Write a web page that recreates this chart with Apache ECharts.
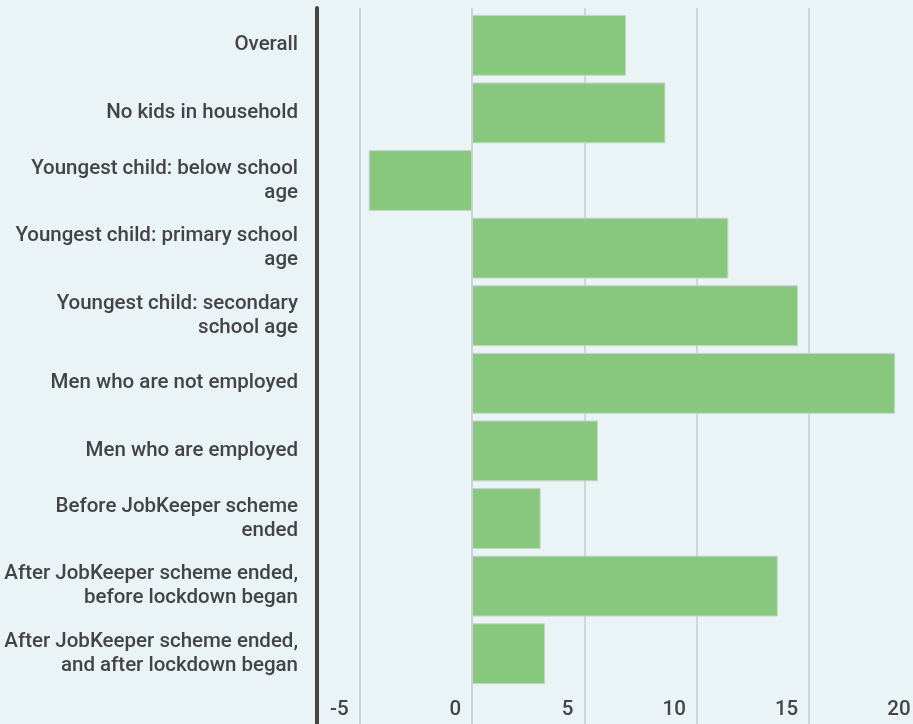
<!DOCTYPE html>
<html>
<head>
<meta charset="utf-8">
<script src="https://cdn.jsdelivr.net/npm/echarts@6/dist/echarts.min.js"></script>
<style>
  html, body { margin: 0; padding: 0; background: #eaf3f6; }
  #chart { width: 913px; height: 724px; }
</style>
</head>
<body>
<div id="chart"></div>
<script>
// categories, top to bottom
const categories = [
  "Overall",
  "No kids in household",
  "Youngest child: below school\nage",
  "Youngest child: primary school\nage",
  "Youngest child: secondary\nschool age",
  "Men who are not employed",
  "Men who are employed",
  "Before JobKeeper scheme\nended",
  "After JobKeeper scheme ended,\nbefore lockdown began",
  "After JobKeeper scheme ended,\nand after lockdown began"
];
const values = [6.85, 8.6, -4.6, 11.4, 14.5, 18.82, 5.6, 3.05, 13.6, 3.25];
const tickValues = [-5, 0, 5, 10, 15, 20];

const chart = echarts.init(document.getElementById("chart"));

// visible range is cut at the left by the y axis and at the right by the page edge
const xMin = -6.9, xMax = 20;
const gridL = 317, gridW = 604.6;

chart.setOption({
  backgroundColor: "#eaf3f6",
  animation: false,
  grid: [
    // bars
    { left: gridL, width: gridW, top: 11.5, bottom: 36.5, outerBoundsMode: "none" },
    // full-height grid for gridlines / labels / axis line
    { left: gridL, width: gridW, top: 8, bottom: 0, outerBoundsMode: "none" }
  ],
  xAxis: [
    {
      gridIndex: 0, type: "value", min: xMin, max: xMax,
      show: false
    },
    {
      gridIndex: 1, type: "value", min: xMin, max: xMax,
      axisLine: { show: false },
      axisTick: { show: false, customValues: tickValues },
      axisLabel: {
        customValues: tickValues,
        inside: true,
        align: "right",
        verticalAlign: "bottom",
        margin: 4,
        padding: [0, 11, 0, 0],
        fontFamily: "Roboto",
        fontWeight: 500,
        fontSize: 20.5,
        color: "#444"
      },
      splitLine: { show: true, lineStyle: { color: "#cfd6d9", width: 2 } }
    }
  ],
  yAxis: [
    {
      gridIndex: 0, type: "category", data: categories, inverse: true,
      axisLine: { show: false },
      axisTick: { show: false },
      axisLabel: {
        margin: 19,
        fontFamily: "Roboto",
        fontWeight: 500,
        fontSize: 20.5,
        lineHeight: 24,
        color: "#444",
        align: "right"
      }
    },
    {
      gridIndex: 1, type: "value", min: 0, max: 1,
      axisLine: { show: true, onZero: false, lineStyle: { color: "#444", width: 4 } },
      axisTick: { show: false },
      axisLabel: { show: false },
      splitLine: { show: false }
    }
  ],
  series: [
    {
      type: "bar",
      xAxisIndex: 0,
      yAxisIndex: 0,
      data: values,
      barCategoryGap: "10%",
      itemStyle: { color: "#88c87e", borderColor: "#c6d3cc", borderWidth: 1 }
    }
  ]
});
</script>
</body>
</html>
